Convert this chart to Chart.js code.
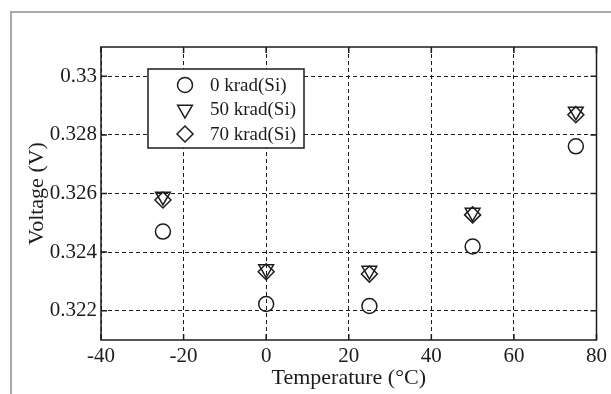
<!DOCTYPE html>
<html>
<head>
<meta charset="utf-8">
<script src="https://cdn.jsdelivr.net/npm/chart.js@4/dist/chart.umd.min.js"></script>
<style>
  html, body { margin: 0; padding: 0; background: #fff; }
  canvas { display: block; }
</style>
</head>
<body>
<canvas id="chart" width="611" height="394"></canvas>
<script>
// temperature points (degC)
const temps = [-25, 0, 25, 50, 75];
// voltage readings (V) per dose
const v0krad = [0.32470, 0.32223, 0.32216, 0.32419, 0.32761];
const v50krad = [0.32590, 0.32342, 0.32337, 0.32535, 0.32880];
const v70krad = [0.32578, 0.32333, 0.32325, 0.32527, 0.32869];
const seriesNames = ['0 krad(Si)', '50 krad(Si)', '70 krad(Si)'];
const xTicks = [-40, -20, 0, 20, 40, 60, 80];
const yTicks = [0.322, 0.324, 0.326, 0.328, 0.33];

const ink = '#1c1c1c';
const serif = "'Liberation Serif', 'Times New Roman', serif";
Chart.defaults.font.family = serif;
Chart.defaults.color = ink;

const pts = vals => temps.map((t, i) => ({ x: t, y: vals[i] }));
const mark = (label, vals, style, rot, r) => ({
  label: label, data: pts(vals), pointStyle: style, rotation: rot,
  pointRadius: r, pointBorderWidth: 1.5, borderColor: ink,
  backgroundColor: 'rgba(0,0,0,0)', showLine: false
});

// grey page frame, plot frame, inward ticks, inset legend
const decor = {
  id: 'decor',
  beforeDraw(chart) {
    const c = chart.ctx;
    c.save();
    c.strokeStyle = '#aaaaaa';
    c.lineWidth = 2;
    c.beginPath();
    c.moveTo(11, 394); c.lineTo(11, 12); c.lineTo(611, 12);
    c.stroke();
    c.restore();
  },
  afterDraw(chart) {
    const c = chart.ctx;
    const a = chart.chartArea;
    const xs = chart.scales.x, ys = chart.scales.y;
    c.save();
    c.strokeStyle = ink;
    c.lineWidth = 1.5;
    c.setLineDash([]);
    c.beginPath();
    xTicks.forEach(t => {
      const px = xs.getPixelForValue(t);
      c.moveTo(px, a.bottom); c.lineTo(px, a.bottom - 6);
      c.moveTo(px, a.top); c.lineTo(px, a.top + 6);
    });
    yTicks.forEach(t => {
      const py = ys.getPixelForValue(t);
      c.moveTo(a.left, py); c.lineTo(a.left + 6, py);
      c.moveTo(a.right, py); c.lineTo(a.right - 6, py);
    });
    c.stroke();
    c.strokeRect(a.left, a.top, a.right - a.left, a.bottom - a.top);

    // legend box
    const bx = a.left + 47, by = a.top + 22, bw = 156, bh = 79;
    c.fillStyle = '#fff';
    c.fillRect(bx, by, bw, bh);
    c.strokeRect(bx, by, bw, bh);
    c.font = '19px ' + serif;
    c.textBaseline = 'middle';
    chart.data.datasets.forEach((ds, i) => {
      const cy = by + 16 + i * 24.5;
      c.fillStyle = 'rgba(0,0,0,0)';
      Chart.helpers.drawPoint(c, {
        pointStyle: ds.pointStyle, rotation: ds.rotation,
        radius: ds.pointRadius, borderWidth: 1.5
      }, bx + 37, cy);
      c.fillStyle = ink;
      c.fillText(ds.label, bx + 62, cy + 1);
    });
    c.restore();
  }
};

new Chart(document.getElementById('chart'), {
  type: 'scatter',
  data: {
    datasets: [
      mark(seriesNames[0], v0krad, 'circle', 0, 7.5),
      mark(seriesNames[1], v50krad, 'triangle', 180, 8.5),
      mark(seriesNames[2], v70krad, 'rectRot', 0, 8)
    ]
  },
  options: {
    responsive: false,
    animation: false,
    layout: { padding: { top: 47, right: 12, left: 0, bottom: 0 } },
    plugins: { legend: { display: false }, tooltip: { enabled: false } },
    scales: {
      x: {
        type: 'linear', min: -40, max: 80,
        afterBuildTicks: s => { s.ticks = xTicks.map(v => ({ value: v })); },
        afterFit: s => { s.height = 54; },
        ticks: { padding: 4, font: { size: 21 }, color: ink, maxRotation: 0 },
        grid: { color: ink, lineWidth: 1, drawTicks: false },
        border: { display: false, dash: [4, 3] },
        title: { display: true, text: 'Temperature (°C)', font: { size: 22 }, color: ink, padding: { top: 0, bottom: 3 } }
      },
      y: {
        type: 'linear', min: 0.321, max: 0.331,
        afterBuildTicks: s => { s.ticks = yTicks.map(v => ({ value: v })); },
        afterFit: s => { s.width = 101; },
        ticks: { padding: 4, font: { size: 21 }, color: ink, callback: v => String(Number(v.toFixed(3))) },
        grid: { color: ink, lineWidth: 1, drawTicks: false },
        border: { display: false, dash: [4, 3] },
        title: { display: true, text: 'Voltage (V)', font: { size: 22 }, color: ink, padding: { top: 24, bottom: 0 } }
      }
    }
  },
  plugins: [decor]
});
</script>
</body>
</html>
